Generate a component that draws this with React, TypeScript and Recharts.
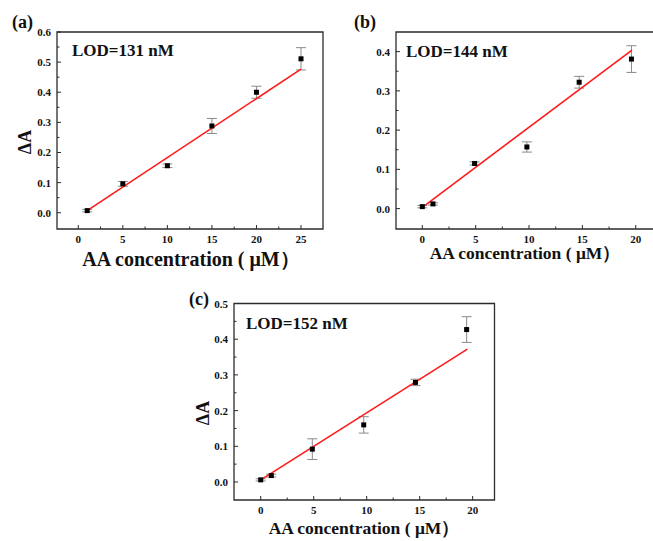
import { ScatterChart, Scatter, XAxis, YAxis, ErrorBar, ReferenceArea } from "recharts";

// panel (a)
const A_X = [1, 5, 10, 15, 20, 25];
const A_Y = [0.007, 0.096, 0.156, 0.288, 0.4, 0.511];
const A_ERR = [0.004, 0.008, 0.006, 0.025, 0.02, 0.037];
const A_FIT_X = [1, 25];
const A_FIT_Y = [0.007, 0.477];
const A_XTICKS = [0, 2.5, 5, 7.5, 10, 12.5, 15, 17.5, 20, 22.5, 25];
const A_YTICKS = [0, 0.05, 0.1, 0.15, 0.2, 0.25, 0.3, 0.35, 0.4, 0.45, 0.5, 0.55, 0.6];

// panel (b)
const B_X = [0, 1, 4.9, 9.8, 14.7, 19.6];
const B_Y = [0.005, 0.012, 0.115, 0.157, 0.322, 0.381];
const B_ERR = [0.003, 0.003, 0.004, 0.013, 0.015, 0.034];
const B_FIT_X = [0, 19.65];
const B_FIT_Y = [0.003, 0.404];
const B_XTICKS = [0, 2.5, 5, 7.5, 10, 12.5, 15, 17.5, 20];
const B_YTICKS = [0, 0.05, 0.1, 0.15, 0.2, 0.25, 0.3, 0.35, 0.4];

// panel (c)
const C_X = [0, 1, 4.87, 9.72, 14.6, 19.43];
const C_Y = [0.006, 0.018, 0.092, 0.16, 0.279, 0.427];
const C_ERR = [0.003, 0.004, 0.029, 0.023, 0.009, 0.036];
const C_FIT_X = [0, 19.5];
const C_FIT_Y = [0.006, 0.372];
const C_XTICKS = [0, 2.5, 5, 7.5, 10, 12.5, 15, 17.5, 20];
const C_YTICKS = [0, 0.05, 0.1, 0.15, 0.2, 0.25, 0.3, 0.35, 0.4, 0.45, 0.5];

const FONT = '"Liberation Serif", "Times New Roman", serif';
const AXIS = "#2b2b2b";
const TXT = "#111";

const isMajorX = (v: number) => Math.abs(v / 5 - Math.round(v / 5)) < 1e-6;
const isMajorY = (v: number) => Math.abs(v * 10 - Math.round(v * 10)) < 1e-6;

const XTick = (props: any) => {
  const { x, y, payload } = props;
  const major = isMajorX(payload.value);
  return (
    <g>
      <line x1={x} x2={x} y1={y} y2={y - (major ? 4 : 2.5)} stroke={AXIS} strokeWidth={1} />
      {major && (
        <text x={x} y={y + 13.5} textAnchor="middle" fontSize={11} fontWeight="bold" style={{ fontFamily: FONT }} fill={TXT}>
          {payload.value}
        </text>
      )}
    </g>
  );
};

const YTick = (props: any) => {
  const { x, y, payload } = props;
  const major = isMajorY(payload.value);
  return (
    <g>
      <line x1={x} x2={x + (major ? 4 : 2.5)} y1={y} y2={y} stroke={AXIS} strokeWidth={1} />
      {major && (
        <text x={x - 6} y={y + 4} textAnchor="end" fontSize={11} fontWeight="bold" style={{ fontFamily: FONT }} fill={TXT}>
          {payload.value.toFixed(1)}
        </text>
      )}
    </g>
  );
};

const Square = (p: any) => <rect x={p.cx - 2.5} y={p.cy - 2.5} width={5} height={5} fill="#000" />;
const Nothing = () => <g />;

interface PanelProps {
  xs: number[];
  ys: number[];
  errs: number[];
  fitX: number[];
  fitY: number[];
  xTicks: number[];
  yTicks: number[];
  xDomain: [number, number];
  yDomain: [number, number];
  left: number;
  top: number;
  width: number;
  height: number;
  margin: { top: number; right: number; bottom: number; left: number };
}

function Panel(p: PanelProps) {
  const points = p.xs.map((x, i) => ({ x, y: p.ys[i], err: p.errs[i] }));
  const fit = p.fitX.map((x, i) => ({ x, y: p.fitY[i] }));
  // axes get 1px so recharts still draws them; take it back from the margin
  const margin = { ...p.margin, left: p.margin.left - 1, bottom: p.margin.bottom - 1 };
  return (
    <div style={{ position: "absolute", left: p.left, top: p.top }}>
      <ScatterChart width={p.width} height={p.height} margin={margin}>
        <XAxis
          type="number"
          dataKey="x"
          domain={p.xDomain}
          allowDataOverflow
          ticks={p.xTicks}
          interval={0}
          height={1}
          tickSize={0}
          tickMargin={0}
          axisLine={false}
          tickLine={false}
          tick={<XTick />}
        />
        <YAxis
          type="number"
          dataKey="y"
          domain={p.yDomain}
          allowDataOverflow
          ticks={p.yTicks}
          interval={0}
          width={1}
          tickSize={0}
          tickMargin={0}
          axisLine={false}
          tickLine={false}
          tick={<YTick />}
        />
        <ReferenceArea
          x1={p.xDomain[0]}
          x2={p.xDomain[1]}
          y1={p.yDomain[0]}
          y2={p.yDomain[1]}
          fill="none"
          fillOpacity={0}
          stroke={AXIS}
          strokeWidth={1.3}
          ifOverflow="visible"
        />
        <Scatter
          data={fit}
          line={{ stroke: "#ff1a1a", strokeWidth: 1.6 }}
          shape={<Nothing />}
          isAnimationActive={false}
        />
        <Scatter data={points} shape={<Square />} isAnimationActive={false}>
          <ErrorBar dataKey="err" direction="y" width={5} stroke="#8a8a8a" strokeWidth={1} />
        </Scatter>
      </ScatterChart>
    </div>
  );
}

const textStyle = { fontWeight: "bold" as const, fill: TXT, style: { fontFamily: FONT } };

export default function App() {
  return (
    <div
      style={{
        position: "absolute",
        left: 0,
        top: 0,
        width: 653,
        height: 541,
        overflow: "hidden",
        background: "#fff",
      }}
    >
      <Panel
        xs={A_X}
        ys={A_Y}
        errs={A_ERR}
        fitX={A_FIT_X}
        fitY={A_FIT_Y}
        xTicks={A_XTICKS}
        yTicks={A_YTICKS}
        xDomain={[-2.39, 27.47]}
        yDomain={[-0.054, 0.6]}
        left={0}
        top={0}
        width={330}
        height={270}
        margin={{ top: 32, right: 7, bottom: 41, left: 57 }}
      />
      <Panel
        xs={B_X}
        ys={B_Y}
        errs={B_ERR}
        fitX={B_FIT_X}
        fitY={B_FIT_Y}
        xTicks={B_XTICKS}
        yTicks={B_YTICKS}
        xDomain={[-2.465, 21.9]}
        yDomain={[-0.052, 0.45]}
        left={340}
        top={0}
        width={320}
        height={270}
        margin={{ top: 32, right: 4, bottom: 41, left: 56 }}
      />
      <Panel
        xs={C_X}
        ys={C_Y}
        errs={C_ERR}
        fitX={C_FIT_X}
        fitY={C_FIT_Y}
        xTicks={C_XTICKS}
        yTicks={C_YTICKS}
        xDomain={[-2.52, 22.06]}
        yDomain={[-0.0504, 0.5]}
        left={180}
        top={270}
        width={320}
        height={271}
        margin={{ top: 33.5, right: 5.5, bottom: 41, left: 54 }}
      />
      <svg
        width={653}
        height={541}
        style={{ position: "absolute", left: 0, top: 0, pointerEvents: "none" }}
      >
        <text x={12} y={28} fontSize={18} {...textStyle}>(a)</text>
        <text x={72} y={56} fontSize={17} {...textStyle}>LOD=131 nM</text>
        <text x={25} y={142} fontSize={18} textAnchor="middle" dominantBaseline="central" transform="rotate(-90 25 142)" {...textStyle}>
          ΔA
        </text>
        <text x={191} y={266} fontSize={20} textAnchor="middle" {...textStyle}>AA concentration ( μM）</text>

        <text x={354} y={28} fontSize={18} {...textStyle}>(b)</text>
        <text x={406} y={57} fontSize={17} {...textStyle}>LOD=144 nM</text>
        <text x={525} y={259} fontSize={17.5} textAnchor="middle" {...textStyle}>AA concentration ( μM）</text>

        <text x={189} y={305} fontSize={18} {...textStyle}>(c)</text>
        <text x={246} y={329} fontSize={17} {...textStyle}>LOD=152 nM</text>
        <text x={203} y={413} fontSize={18} textAnchor="middle" dominantBaseline="central" transform="rotate(-90 203 413)" {...textStyle}>
          ΔA
        </text>
        <text x={364} y={534} fontSize={17.5} textAnchor="middle" {...textStyle}>AA concentration ( μM）</text>
      </svg>
    </div>
  );
}
